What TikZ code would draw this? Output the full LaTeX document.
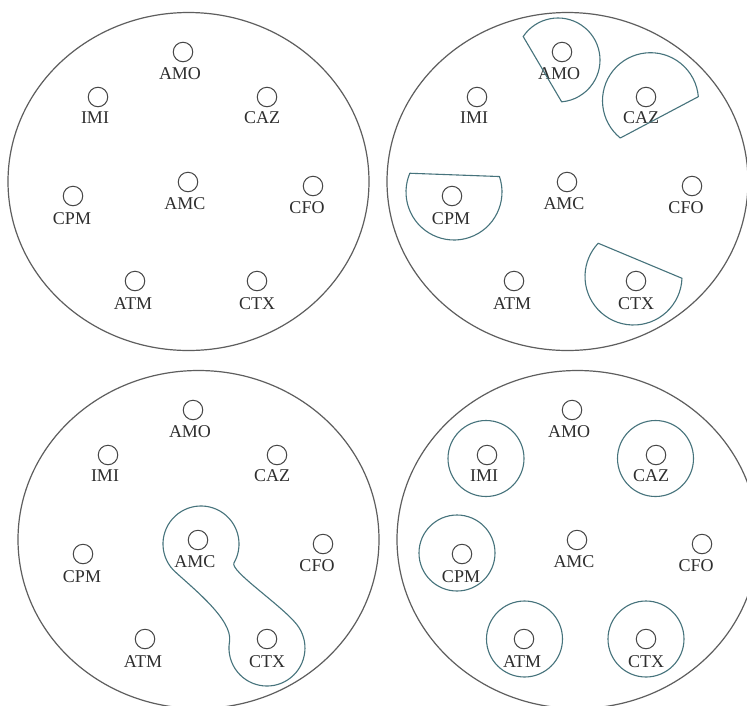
\documentclass[tikz,border=0pt]{standalone}
\usepackage{fontspec}
\setmainfont{Liberation Serif}
\definecolor{plategray}{HTML}{5E5E5E}
\definecolor{wellgray}{HTML}{474747}
\definecolor{zoneteal}{HTML}{46737C}
\definecolor{labgray}{HTML}{2E2E2E}
\tikzset{
  platerim/.style={draw=plategray, line width=1.2pt},
  well/.style={circle, draw=wellgray, line width=1pt, minimum size=19.5pt, inner sep=0pt},
  lab/.style={text=labgray, font=\fontsize{18}{20}\selectfont, inner sep=0pt},
  zone/.style={draw=zoneteal, line width=1.1pt, line join=round}
}
\newcommand\platecontent[1]{%
  \draw[platerim] (188.5,181.5) ellipse[x radius=180.5, y radius=169];
  \node[well] (#1AMO) at (183,52) {};
  \node[well] (#1IMI) at (98,97) {};
  \node[well] (#1CAZ) at (267,97) {};
  \node[well] (#1CPM) at (73,196) {};
  \node[well] (#1AMC) at (188,182) {};
  \node[well] (#1CFO) at (313,186) {};
  \node[well] (#1ATM) at (135,281) {};
  \node[well] (#1CTX) at (257,281) {};
  \node[lab] (#1AMOl) at (180,74) {AMO};
  \node[lab] (#1IMIl) at (95,118) {IMI};
  \node[lab] (#1CAZl) at (262,118) {CAZ};
  \node[lab] (#1CPMl) at (72,219) {CPM};
  \node[lab] (#1AMCl) at (185,204) {AMC};
  \node[lab] (#1CFOl) at (307,208) {CFO};
  \node[lab] (#1ATMl) at (133,304) {ATM};
  \node[lab] (#1CTXl) at (257,304) {CTX};
}
\begin{document}
\begin{tikzpicture}[x=1pt, y=-1pt]
\useasboundingbox (0,0) rectangle (747,705);
\fill[white] (0,0) rectangle (747,705);
% plate 1
\begin{scope}
  \platecontent{pa}
\end{scope}
% plate 2
\begin{scope}[shift={(379,0)}]
  \platecontent{pb}
\end{scope}
% plate 3
\begin{scope}[shift={(10,358)}]
  \platecontent{pc}
\end{scope}
% plate 4
\begin{scope}[shift={(389,358)}]
  \platecontent{pd}
\end{scope}
% plate 2 zones (circular segments)
\draw[zone] (558,60) ++(-146:42) arc[start angle=-146, end angle=85, radius=42] -- cycle;
\draw[zone] (650.5,100.7) ++(129:48) arc[start angle=129, end angle=355.2, radius=48] -- cycle;
\draw[zone] (454,192) ++(-18.8:48) arc[start angle=-18.8, end angle=203, radius=48] -- cycle;
\draw[zone] (633.5,276.5) ++(2.1:48.5) arc[start angle=2.1, end angle=223.3, radius=48.5] -- cycle;
% plate 3 zone (AMC--CTX dumbbell)
\draw[zone] (173.2,569.9) arc[start angle=137, end angle=390, radius=38]
  .. controls (230,571) and (280.8,604.7) .. (296.5,624.1)
  arc[start angle=321, end angle=550, radius=38]
  .. controls (233,619) and (190,586) .. (173.2,569.9) -- cycle;
% plate 4 zones (circles)
\draw[zone] (486,458.5) circle[radius=38];
\draw[zone] (655.5,458.5) circle[radius=38];
\draw[zone] (457,553) circle[radius=38];
\draw[zone] (524.5,639) circle[radius=38];
\draw[zone] (646,639) circle[radius=38];
\end{tikzpicture}
\end{document}
